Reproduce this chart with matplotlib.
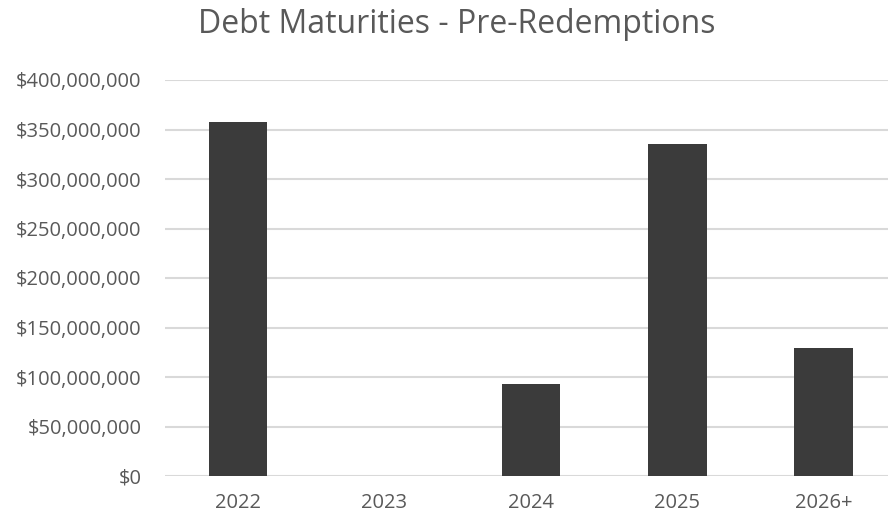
import matplotlib.pyplot as plt
from matplotlib.ticker import FuncFormatter, MultipleLocator

years = ['2022', '2023', '2024', '2025', '2026+']
maturities = [357_600_000, 0, 92_900_000, 335_400_000, 129_300_000]

grey_text = '#595959'
plt.rcParams['font.family'] = ['Open Sans', 'DejaVu Sans']

fig = plt.figure(figsize=(8.88, 5.14), dpi=100)
ax = fig.add_axes([165 / 888, 1 - 476 / 514, 1 - 165 / 888, (476 - 80) / 514])

x = range(len(years))
ax.bar(x, maturities, width=0.40, color='#3b3b3b', zorder=3)

ax.set_xlim(-0.5, 4.44)
ax.set_ylim(0, 400_000_000)
ax.yaxis.set_major_locator(MultipleLocator(50_000_000))
ax.yaxis.set_major_formatter(FuncFormatter(lambda v, p: f'${v:,.0f}'))
ax.set_xticks(list(x))
ax.set_xticklabels(years)

ax.grid(axis='y', color='#d9d9d9', linewidth=1.5, zorder=0)
for s in ax.spines.values():
    s.set_visible(False)
ax.tick_params(length=0, labelsize=14.5, colors=grey_text)
ax.tick_params(axis='y', pad=17)
ax.tick_params(axis='x', pad=12)

fig.text(457 / 888, 1 - 33 / 514, 'Debt Maturities - Pre-Redemptions',
         ha='center', va='baseline', fontsize=23, color=grey_text)

fig.savefig('out.png', dpi=100)
